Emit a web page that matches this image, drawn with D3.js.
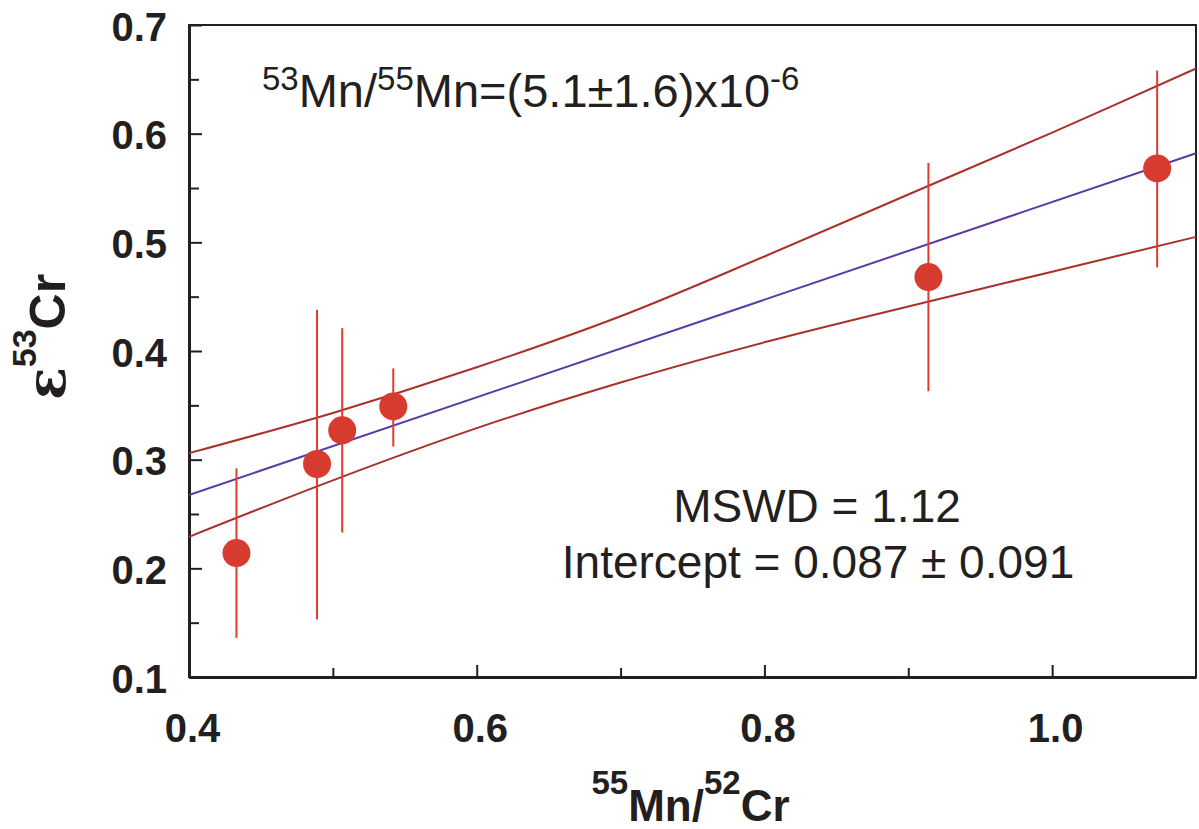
<!DOCTYPE html>
<html>
<head>
<meta charset="utf-8">
<script src="https://cdn.jsdelivr.net/npm/d3@7"></script>
<style>
  body { margin: 0; background: #fff; }
  svg { display: block; font-family: "Liberation Sans", Arial, sans-serif; }
  .axis path, .axis line { stroke: #231f20; }
  .axis text { font-family: "Liberation Sans", Arial, sans-serif; font-weight: bold; font-size: 40px; fill: #231f20; }
</style>
</head>
<body>
<svg width="1199" height="829"></svg>
<script>
// samples (55Mn/52Cr, e53Cr) with 2-sigma error bars
const sampleX = [0.433, 0.489, 0.5065, 0.542, 0.914, 1.073];
const sampleY = [0.214, 0.296, 0.327, 0.349, 0.468, 0.568];
const errLow = [0.136, 0.153, 0.233, 0.312, 0.363, 0.477];
const errHigh = [0.292, 0.438, 0.421, 0.384, 0.573, 0.658];

// isochron line end points
const fitX = [0.4, 1.1];
const fitY = [0.2675, 0.582];

// error envelope
const envX = [0.4, 0.5, 0.6, 0.7, 0.8, 0.9, 1.0, 1.1];
const envUpper = [0.306, 0.343, 0.385, 0.432, 0.487, 0.544, 0.601, 0.660];
const envLower = [0.229, 0.281, 0.329, 0.371, 0.408, 0.441, 0.473, 0.505];

const xTicks = [0.4, 0.6, 0.8, 1.0];
const xMinor = [0.5, 0.7, 0.9];
const yTicks = [0.1, 0.2, 0.3, 0.4, 0.5, 0.6, 0.7];
const yMinor = [0.15, 0.25, 0.35, 0.45, 0.55, 0.65];

const svg = d3.select("svg");
const margin = { top: 25, right: 3, bottom: 152, left: 189 };
const width = +svg.attr("width") - margin.left - margin.right;
const height = +svg.attr("height") - margin.top - margin.bottom;

const x = d3.scaleLinear().domain([0.4, 1.1]).range([0, width]);
const y = d3.scaleLinear().domain([0.1, 0.7]).range([height, 0]);

const g = svg.append("g").attr("transform", `translate(${margin.left},${margin.top})`);

// frame
g.append("rect")
  .attr("width", width)
  .attr("height", height)
  .attr("fill", "none")
  .attr("stroke", "#231f20")
  .attr("stroke-width", 2);

// minor ticks first, then major axes
g.append("g")
  .attr("class", "axis")
  .attr("transform", `translate(0,${height})`)
  .call(d3.axisBottom(x).tickValues(xMinor).tickSize(-9).tickFormat(""))
  .call((s) => s.select(".domain").remove())
  .selectAll("line").attr("stroke-width", 2);

g.append("g")
  .attr("class", "axis")
  .call(d3.axisLeft(y).tickValues(yMinor).tickSize(-10).tickFormat(""))
  .call((s) => s.select(".domain").remove())
  .selectAll("line").attr("stroke-width", 2);

const xAxis = g.append("g")
  .attr("class", "axis")
  .attr("transform", `translate(0,${height})`)
  .call(d3.axisBottom(x).tickValues(xTicks).tickSize(-12).tickSizeOuter(0).tickPadding(37).tickFormat(d3.format(".1f")));
xAxis.select(".domain").attr("stroke-width", 3);
xAxis.selectAll(".tick line").attr("stroke-width", 2);
xAxis.selectAll(".tick text").attr("dx", "3");

const yAxis = g.append("g")
  .attr("class", "axis")
  .call(d3.axisLeft(y).tickValues(yTicks).tickSize(-13).tickSizeOuter(0).tickPadding(22).tickFormat(d3.format(".1f")));
yAxis.select(".domain").attr("stroke-width", 3);
yAxis.selectAll(".tick line").attr("stroke-width", 2);
yAxis.selectAll(".tick text").attr("dy", "0.38em");

// envelope curves
const envLine = d3.line().curve(d3.curveCatmullRom).x((d) => x(d[0])).y((d) => y(d[1]));
[envUpper, envLower].forEach((arr) => {
  g.append("path")
    .datum(envX.map((v, i) => [v, arr[i]]))
    .attr("fill", "none")
    .attr("stroke", "#a8322a")
    .attr("stroke-width", 2)
    .attr("d", envLine);
});

// isochron
g.append("path")
  .datum(fitX.map((v, i) => [v, fitY[i]]))
  .attr("fill", "none")
  .attr("stroke", "#5b3aa6")
  .attr("stroke-width", 2)
  .attr("d", d3.line().x((d) => x(d[0])).y((d) => y(d[1])));

const pts = sampleX.map((v, i) => ({ x: v, y: sampleY[i], lo: errLow[i], hi: errHigh[i] }));

g.selectAll(".err")
  .data(pts)
  .enter()
  .append("line")
  .attr("class", "err")
  .attr("x1", (d) => x(d.x))
  .attr("x2", (d) => x(d.x))
  .attr("y1", (d) => y(d.lo))
  .attr("y2", (d) => y(d.hi))
  .attr("stroke", "#dc3c31")
  .attr("stroke-width", 2);

g.selectAll(".dot")
  .data(pts)
  .enter()
  .append("circle")
  .attr("class", "dot")
  .attr("cx", (d) => x(d.x))
  .attr("cy", (d) => y(d.y))
  .attr("r", 14)
  .attr("fill", "#d73a2f");

// annotations
const title = g.append("text")
  .attr("x", 73)
  .attr("y", 82)
  .attr("font-size", 47)
  .attr("fill", "#231f20");
title.append("tspan").attr("font-size", 33).attr("dy", -17).text("53");
title.append("tspan").attr("dy", 17).text("Mn/");
title.append("tspan").attr("font-size", 33).attr("dy", -17).text("55");
title.append("tspan").attr("dy", 17).text("Mn=(5.1±1.6)x10");
title.append("tspan").attr("font-size", 33).attr("dy", -17).text("-6");

g.append("text")
  .attr("x", 628)
  .attr("y", 497)
  .attr("text-anchor", "middle")
  .attr("font-size", 46)
  .attr("fill", "#231f20")
  .text("MSWD = 1.12");

g.append("text")
  .attr("x", 629)
  .attr("y", 553)
  .attr("text-anchor", "middle")
  .attr("font-size", 46)
  .attr("fill", "#231f20")
  .text("Intercept = 0.087 ± 0.091");

// axis titles
const xLabel = svg.append("text")
  .attr("x", margin.left + width / 2 - 2)
  .attr("y", 821)
  .attr("text-anchor", "middle")
  .attr("font-weight", "bold")
  .attr("font-size", 44)
  .attr("fill", "#231f20");
xLabel.append("tspan").attr("font-size", 33).attr("dy", -27).text("55");
xLabel.append("tspan").attr("dy", 27).text("Mn/");
xLabel.append("tspan").attr("font-size", 33).attr("dy", -27).text("52");
xLabel.append("tspan").attr("dy", 27).text("Cr");

const yLabel = svg.append("text")
  .attr("transform", "translate(65,337) rotate(-90)")
  .attr("text-anchor", "middle")
  .attr("font-weight", "bold")
  .attr("font-size", 50)
  .attr("fill", "#231f20");
yLabel.append("tspan").attr("font-family", "DejaVu Serif").attr("font-weight", "bold").attr("font-size", 54).text("ε");
yLabel.append("tspan").attr("font-size", 34).attr("dy", -29).text("53");
yLabel.append("tspan").attr("dy", 29).text("Cr");
</script>
</body>
</html>
